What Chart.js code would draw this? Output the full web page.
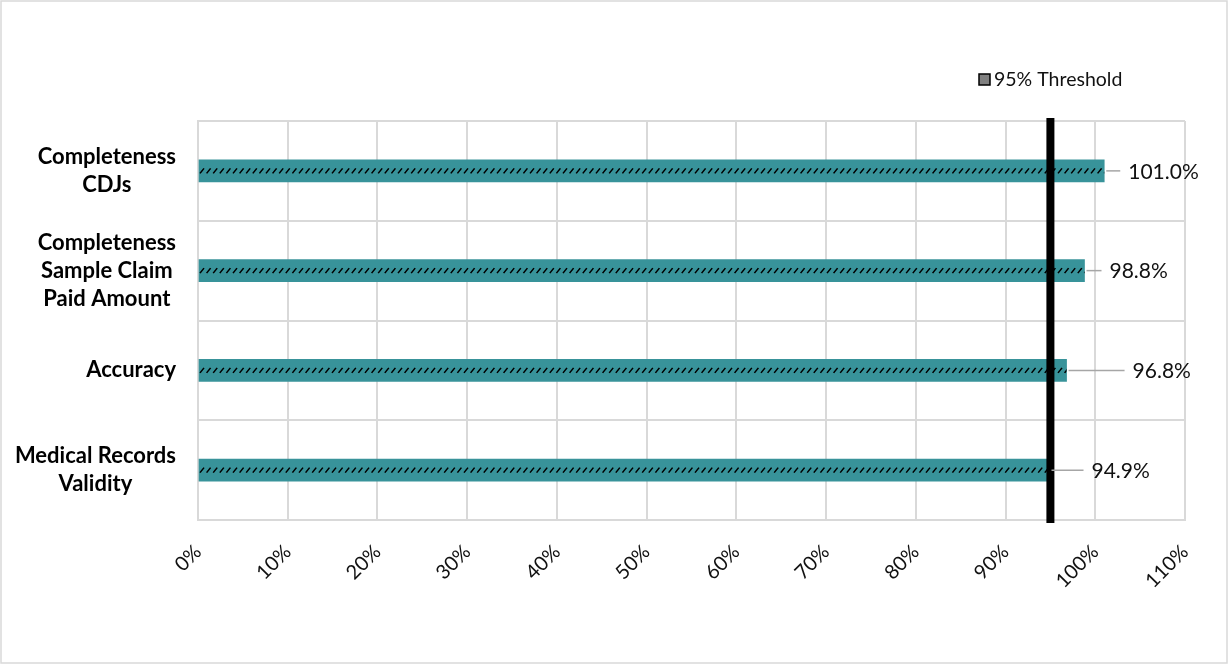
<!DOCTYPE html>
<html lang="en">
<head>
<meta charset="UTF-8">
<title>Validation Results vs 95% Threshold</title>
<script src="https://cdn.jsdelivr.net/npm/chart.js@4.4.0/dist/chart.umd.min.js"></script>
<style>
  html, body { margin: 0; padding: 0; background: #fff; }
  #wrap { width: 1228px; height: 664px; position: relative; }
</style>
</head>
<body>
<div id="wrap"><canvas id="chart"></canvas></div>
<script>
// Data
const categories = [
  ['Completeness', 'CDJs'],
  ['Completeness', 'Sample Claim', 'Paid Amount'],
  ['Accuracy'],
  ['Medical Records', 'Validity']
];
const rates = [1.010, 0.988, 0.968, 0.949];
const rateLabels = ['101.0%', '98.8%', '96.8%', '94.9%'];
const threshold = 0.95;
const thresholdLabel = '95% Threshold';
const xTicks = [0, 0.1, 0.2, 0.3, 0.4, 0.5, 0.6, 0.7, 0.8, 0.9, 1.0, 1.1];

const GRID = '#d9d9d9';
const TEAL = '#38939a';

// white background + thin outer frame
const framePlugin = {
  id: 'frame',
  beforeDraw(chart) {
    const ctx = chart.ctx;
    ctx.save();
    ctx.fillStyle = '#fff';
    ctx.fillRect(0, 0, chart.width, chart.height);
    ctx.strokeStyle = GRID;
    ctx.lineWidth = 1.5;
    ctx.strokeRect(1, 1, chart.width - 2, chart.height - 2);
    ctx.restore();
  }
};

// category labels: each block centred on its own lines, blocks right-aligned to the axis
const categoryLabelPlugin = {
  id: 'categoryLabels',
  afterDraw(chart) {
    const ctx = chart.ctx;
    const ys = chart.scales.y;
    const lineH = 28;
    ctx.save();
    ctx.font = 'bold 22px Lato';
    ctx.fillStyle = '#000';
    ctx.textAlign = 'center';
    ctx.textBaseline = 'middle';
    const right = chart.chartArea.left - 22;
    categories.forEach((lines, i) => {
      const w = Math.max(...lines.map(t => ctx.measureText(t).width));
      const cx = right - w / 2;
      const cy = ys.getPixelForTick(i);
      const y0 = cy - (lines.length - 1) * lineH / 2;
      lines.forEach((t, j) => ctx.fillText(t, cx, y0 + j * lineH));
    });
    ctx.restore();
  }
};

// small diagonal dashes through the middle of each bar
const hatchPlugin = {
  id: 'hatch',
  afterDatasetsDraw(chart) {
    const ctx = chart.ctx;
    const meta = chart.getDatasetMeta(0);
    ctx.save();
    ctx.strokeStyle = '#000';
    ctx.lineWidth = 1.6;
    meta.data.forEach(bar => {
      const left = bar.base, right = bar.x, cy = bar.y;
      ctx.save();
      ctx.beginPath();
      ctx.rect(left, cy - 4, right - left, 8);
      ctx.clip();
      ctx.beginPath();
      for (let x = left + 1; x < right; x += 6.6) {
        ctx.moveTo(x, cy + 2.5);
        ctx.lineTo(x + 4, cy - 2.5);
      }
      ctx.stroke();
      ctx.restore();
    });
    ctx.restore();
  }
};

// vertical threshold line
const thresholdPlugin = {
  id: 'thresholdLine',
  afterDatasetsDraw(chart) {
    const ctx = chart.ctx;
    const xs = chart.scales.x;
    const a = chart.chartArea;
    const x = xs.getPixelForValue(threshold);
    ctx.save();
    ctx.strokeStyle = '#000';
    ctx.lineWidth = 8;
    ctx.beginPath();
    ctx.moveTo(x, a.top - 3);
    ctx.lineTo(x, a.bottom + 3);
    ctx.stroke();
    ctx.restore();
  }
};

// value labels with grey leader lines
const valueLabelPlugin = {
  id: 'valueLabels',
  afterDraw(chart, args, opts) {
    const ctx = chart.ctx;
    const meta = chart.getDatasetMeta(0);
    ctx.save();
    ctx.font = '21px Lato';
    ctx.fillStyle = '#111';
    ctx.textBaseline = 'middle';
    ctx.textAlign = 'left';
    meta.data.forEach((bar, i) => {
      const gap = opts.gaps[i];
      const tx = bar.x + gap;
      ctx.strokeStyle = '#a6a6a6';
      ctx.lineWidth = 1.5;
      ctx.beginPath();
      ctx.moveTo(bar.x + 2, bar.y);
      ctx.lineTo(tx - 8, bar.y);
      ctx.stroke();
      ctx.fillText(rateLabels[i], tx, bar.y + 1);
    });
    ctx.restore();
  }
};

// legend entry for the threshold line
const legendPlugin = {
  id: 'thresholdLegend',
  afterDraw(chart) {
    const ctx = chart.ctx;
    ctx.save();
    ctx.fillStyle = '#808080';
    ctx.fillRect(979, 74, 11, 11);
    ctx.strokeStyle = '#000';
    ctx.lineWidth = 1.5;
    ctx.strokeRect(979, 74, 11, 11);
    ctx.font = '19.5px Lato';
    ctx.fillStyle = '#111';
    ctx.textBaseline = 'middle';
    ctx.fillText(thresholdLabel, 994, 80);
    ctx.restore();
  }
};

new Chart(document.getElementById('chart'), {
  type: 'bar',
  data: {
    labels: categories,
    datasets: [{
      label: 'Result',
      data: rates,
      backgroundColor: TEAL,
      borderWidth: 0,
      barThickness: 22
    }]
  },
  options: {
    indexAxis: 'y',
    responsive: true,
    maintainAspectRatio: false,
    animation: false,
    layout: { padding: { left: 8, right: 43, top: 121, bottom: 20 } },
    scales: {
      x: {
        min: 0,
        max: 1.1,
        afterBuildTicks: s => { s.ticks = xTicks.map(v => ({ value: v })); },
        afterFit: s => { s.height = 124; },
        grid: { color: GRID, lineWidth: 2, drawTicks: false },
        border: { color: GRID, width: 2 },
        ticks: {
          padding: 20,
          minRotation: 45,
          maxRotation: 45,
          color: '#111',
          font: { family: 'Lato', size: 20 },
          callback: v => Math.round(v * 100) + '%'
        }
      },
      y: {
        afterFit: s => { s.width = 190; },
        grid: { color: GRID, lineWidth: 2, drawTicks: false, offset: true },
        border: { color: GRID, width: 2 },
        ticks: { display: false }
      }
    },
    plugins: {
      legend: { display: false },
      tooltip: { enabled: false },
      valueLabels: { gaps: [24, 25, 66, 42] }
    }
  },
  plugins: [framePlugin, categoryLabelPlugin, hatchPlugin, thresholdPlugin, valueLabelPlugin, legendPlugin]
});
</script>
</body>
</html>
